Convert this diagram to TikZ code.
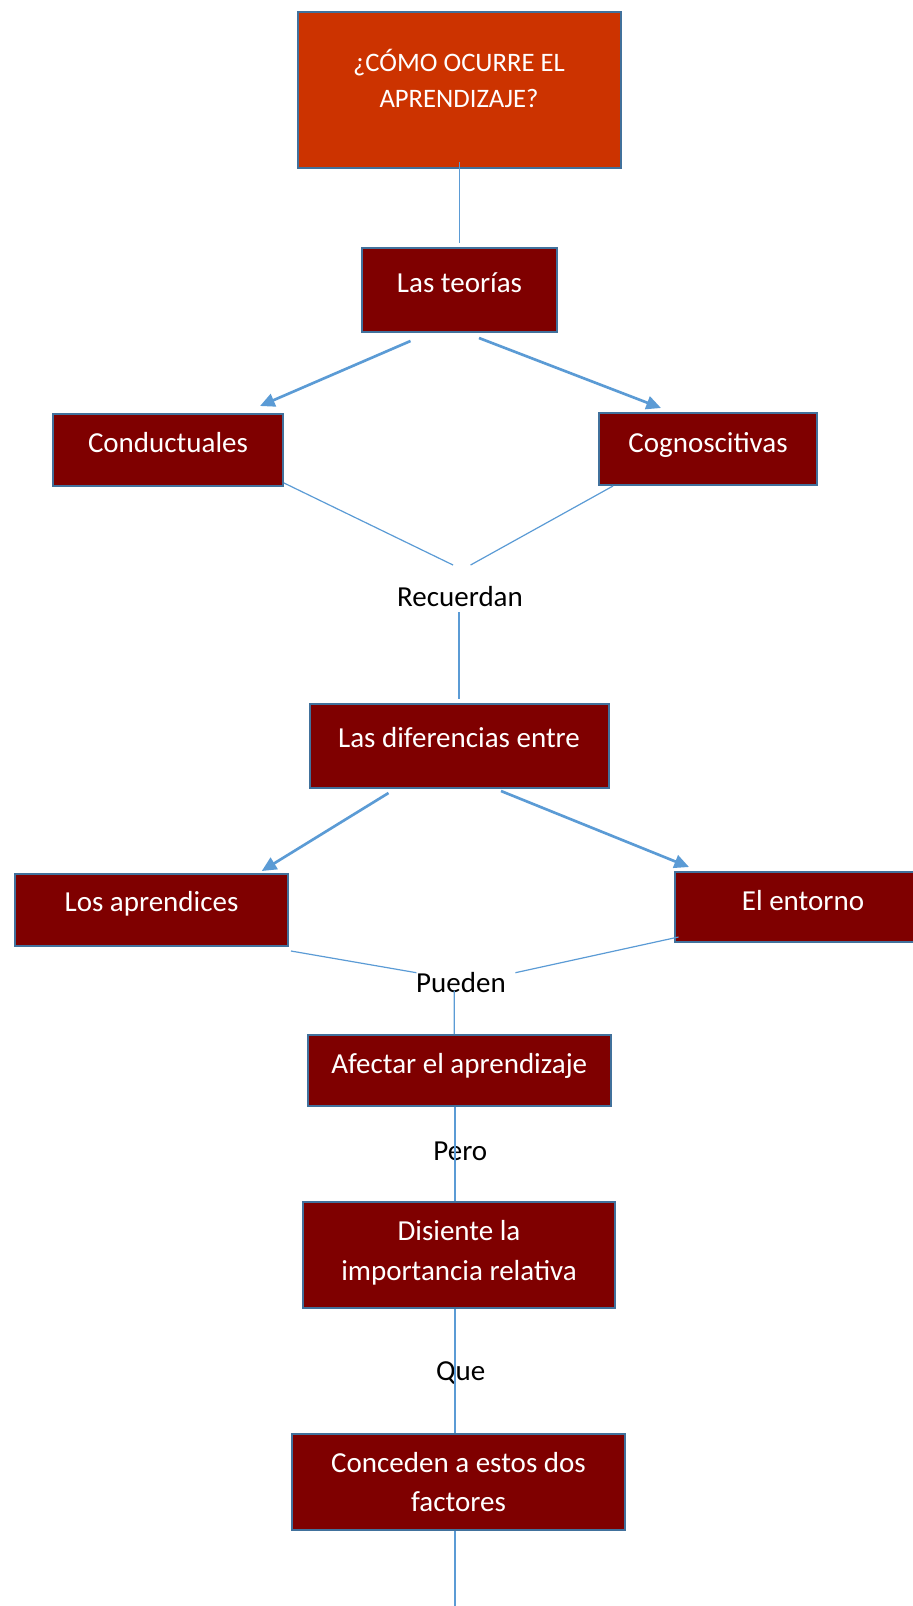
\documentclass[tikz,border=0pt]{standalone}
\usepackage{fontspec}
\setmainfont{Carlito}
\usetikzlibrary{arrows.meta,calc}
\definecolor{topfill}{HTML}{CC3300}
\definecolor{boxfill}{HTML}{7F0000}
\definecolor{boxedge}{HTML}{41719C}
\definecolor{conn}{HTML}{5B9BD5}
\begin{document}
\begin{tikzpicture}[x=0.75pt,y=-0.75pt,
  box/.style={draw=boxedge, line width=1.5pt, fill=boxfill, inner sep=0pt},
  topbox/.style={box, fill=topfill},
  wtxt/.style={text=white, font=\fontsize{21.75pt}{30pt}\selectfont, inner sep=0pt, anchor=base},
  ttxt/.style={wtxt, font=\fontsize{20pt}{27pt}\selectfont},
  btxt/.style={text=black, font=\fontsize{21.75pt}{30pt}\selectfont, inner sep=0pt, anchor=base},
  thinline/.style={draw=conn, line width=0.9pt},
  arr/.style={draw=conn, line width=2pt, -{Triangle[length=11pt,width=10pt]}}]
\useasboundingbox (0,0) rectangle (913,1606);
% boxes
\node[topbox, minimum width=242.25pt, minimum height=117pt] (top) at (459.5,90) {};
\node[box, minimum width=146.25pt, minimum height=63pt] (teor) at (459.5,290) {};
\node[box, minimum width=172.5pt, minimum height=54pt] (cond) at (168,450) {};
\node[box, minimum width=163.5pt, minimum height=54pt] (cogn) at (708,449) {};
\node[box, minimum width=224.25pt, minimum height=63pt] (dif) at (459.5,746) {};
\node[box, minimum width=205.1pt, minimum height=54pt] (apr) at (151.75,910) {};
\node[box, minimum width=192pt, minimum height=52.5pt] (ent) at (803,907) {};
\node[box, minimum width=226.9pt, minimum height=53.25pt] (afec) at (459.25,1070.5) {};
\node[box, minimum width=234pt, minimum height=79.5pt] (dis) at (459,1255) {};
\node[box, minimum width=249.75pt, minimum height=72pt] (con) at (458.5,1482) {};
% texts
\node[ttxt] (topa) at (459,71.7) {¿CÓMO OCURRE EL};
\node[ttxt] (topb) at (459,107.3) {APRENDIZAJE?};
\node[wtxt] (teort) at (459.5,292) {Las teorías};
\node[wtxt] (condt) at (168,452.3) {Conductuales};
\node[wtxt] (cognt) at (708,452.3) {Cognoscitivas};
\node[btxt] (rec) at (460,606) {Recuerdan};
\node[wtxt] (dift) at (459,747.7) {Las diferencias entre};
\node[wtxt] (aprt) at (151.5,911.7) {Los aprendices};
\node[wtxt] (entt) at (803,910) {El entorno};
\node[btxt] (pue) at (461,992.7) {Pueden};
\node[wtxt] (afect) at (459.2,1073.3) {Afectar el aprendizaje};
\node[btxt] (pero) at (460.3,1160) {Pero};
\node[wtxt] (disa) at (459,1240) {Disiente la};
\node[wtxt] (disb) at (459,1280) {importancia relativa};
\node[btxt] (que) at (460.8,1380) {Que};
\node[wtxt] (cona) at (458.5,1472.3) {Conceden a estos dos};
\node[wtxt] (conb) at (458.5,1511.7) {factores};
% connectors
\draw[thinline] ($(top.south)+(0,-7)$) -- ($(teor.north)+(0,-4)$);
\draw[arr] ($(teor.south)+(-49,8)$) -- ($(cond.north)+(92,-7)$);
\draw[arr] ($(teor.south)+(19.5,5)$) -- ($(cogn.north)+(-47,-4)$);
\draw[thinline] ($(cond.south east)+(0,-4)$) -- ($(rec.base)+(-7,-41)$);
\draw[thinline] ($(cogn.south west)+(15,0)$) -- ($(rec.base)+(10.6,-41)$);
\draw[thinline] ($(rec.base)+(-1,6)$) -- ($(dif.north)+(-0.5,-4)$);
\draw[arr] ($(dif.south)+(-71,4)$) -- ($(apr.north)+(110,-2)$);
\draw[arr] ($(dif.south)+(41.5,2)$) -- ($(ent.north west)+(15,-4)$);
\draw[thinline] ($(apr.south east)+(1.5,4)$) -- ($(pue.base)+(-44.6,-20)$);
\draw[thinline] ($(ent.south west)+(4.5,-6)$) -- ($(pue.base)+(54.4,-20)$);
\draw[thinline] ($(pue.base)+(-6.7,-2)$) -- ($(afec.north)+(-5,0)$);
\draw[thinline] ($(afec.south)+(-4.25,0)$) -- ($(dis.north)+(-4,0)$);
\draw[thinline] ($(dis.south)+(-4,0)$) -- ($(con.north)+(-3.5,0)$);
\coordinate (bot) at (455,1606);
\draw[thinline] ($(con.south)+(-3.5,0)$) -- (bot);
\end{tikzpicture}
\end{document}
